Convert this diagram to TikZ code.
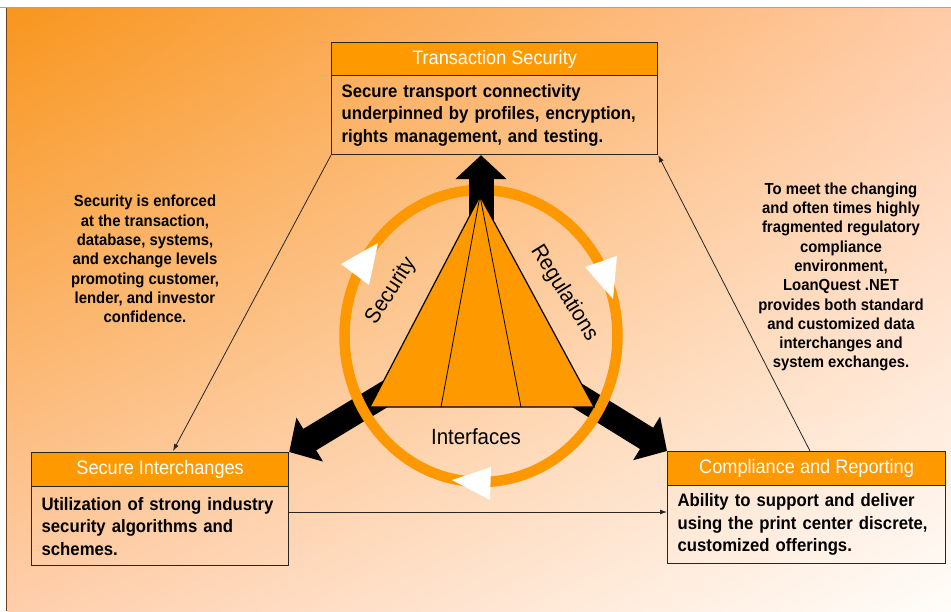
\documentclass[tikz,border=0pt]{standalone}
\usepackage{fontspec}
\setmainfont{Liberation Sans}[FakeStretch=0.93]
\usetikzlibrary{arrows.meta,calc,shadings}
\definecolor{hdr}{RGB}{255,153,0}
\definecolor{ringc}{RGB}{253,152,0}
\definecolor{bgUL}{RGB}{248,150,30}
\definecolor{bgUR}{RGB}{255,203,168}
\definecolor{bgLL}{RGB}{254,206,172}
\definecolor{bgLR}{RGB}{255,253,250}
\definecolor{edgec}{RGB}{110,62,20}
\tikzset{
  hdrbox/.style={draw=black!85, line width=1.2pt, fill=hdr, text=white, inner sep=0pt,
    font=\fontsize{19.5}{23}\selectfont, anchor=north west},
  bodybox/.style={draw=black!85, line width=1.2pt, inner xsep=10pt, inner ysep=0pt, align=left,
    font=\bfseries\fontsize{18}{22.5}\selectfont, anchor=north west},
  sidetext/.style={align=center, font=\bfseries\fontsize{16}{19.3}\selectfont},
  lbl/.style={font=\fontsize{22}{26}\selectfont},
  bigarrow/.style={line width=25pt, -{Triangle[length=24pt,width=50pt]}},
  thinarrow/.style={line width=0.8pt, black!85, -{Latex[length=7pt,width=5pt]}},
  whitetip/.style={fill=white},
}
\begin{document}
\begin{tikzpicture}[x=1pt,y=-1pt]
\useasboundingbox (0,0) rectangle (951,611);
\fill[white] (0,0) rectangle (951,611);
\shade[upper left=bgUL, upper right=bgUR, lower left=bgLL, lower right=bgLR] (7,8) rectangle (951,611);
\draw[black!35, line width=1.2pt] (0,7.6) -- (951,7.6);
\draw[edgec, line width=1.4pt] (6.3,8) -- (6.3,611);

% boxes
\node[hdrbox, minimum width=326pt, minimum height=33pt] (tsh) at (331,42) {Transaction Security};
\node[bodybox, minimum width=326pt, minimum height=79pt, text width=306pt] (tsb) at (331,75)
  {Secure transport connectivity\\underpinned by profiles, encryption,\\rights management, and testing.};
\node[hdrbox, minimum width=257pt, minimum height=34pt] (sih) at (31,452) {Secure Interchanges};
\node[bodybox, minimum width=257pt, minimum height=79pt, text width=237pt] (sib) at (31,486)
  {Utilization of strong industry\\security algorithms and\\schemes.};
\node[hdrbox, minimum width=278pt, minimum height=34pt] (crh) at (667,451) {Compliance and Reporting};
\node[bodybox, minimum width=278pt, minimum height=78pt, text width=258pt] (crb) at (667,485)
  {Ability to support and deliver\\using the print center discrete,\\customized offerings.};

% central graphic
\coordinate (c) at (481,336);
\draw[bigarrow] (c) -- (sih.north east);
\draw[bigarrow] (c) -- (crh.north west);
\draw[ringc, line width=10.5pt] (c) ellipse [x radius=136.5pt, y radius=146pt];
\draw[bigarrow] (c) -- (tsb.south -| c);
\coordinate (apex) at (480,196);
\coordinate (bl) at (370,407);
\coordinate (br) at (594,407);
\filldraw[fill=hdr, draw=black, line width=1.2pt] (apex) -- (bl) -- (br) -- cycle;
\draw[black, line width=0.8pt] (apex) -- (441,407);
\draw[black, line width=0.8pt] (apex) -- (521,407);
\fill[whitetip] (378,243) -- (341,264) -- (369,285) -- cycle;
\fill[whitetip] (613,299) -- (585,267) -- (617,256) -- cycle;
\fill[whitetip] (452,480) -- (491,467) -- (490,500) -- cycle;

\node[lbl, rotate=57] (seclbl) at (391,291) {Security};
\node[lbl, rotate=-58] (reglbl) at (564,293) {Regulations};
\node[lbl] (intlbl) at (476,437) {Interfaces};

% side texts
\node[sidetext] (lefttxt) at (145,259) {Security is enforced\\at the transaction,\\database, systems,\\and exchange levels\\promoting customer,\\lender, and investor\\confidence.};
\node[sidetext] (righttxt) at (841,277) {To meet the changing\\and often times highly\\fragmented regulatory\\compliance\\environment,\\LoanQuest .NET\\provides both standard\\and customized data\\interchanges and\\system exchanges.};

% thin connectors
\draw[thinarrow] (tsb.south west) -- ($(sih.north west)+(142,-1)$);
\draw[thinarrow] ($(crh.north west)+(143,0)$) -- (tsb.south east);
\coordinate (hs) at ($(sib.north east)+(0,26)$);
\draw[thinarrow] (hs) -- (crb.west |- hs);
\end{tikzpicture}
\end{document}
